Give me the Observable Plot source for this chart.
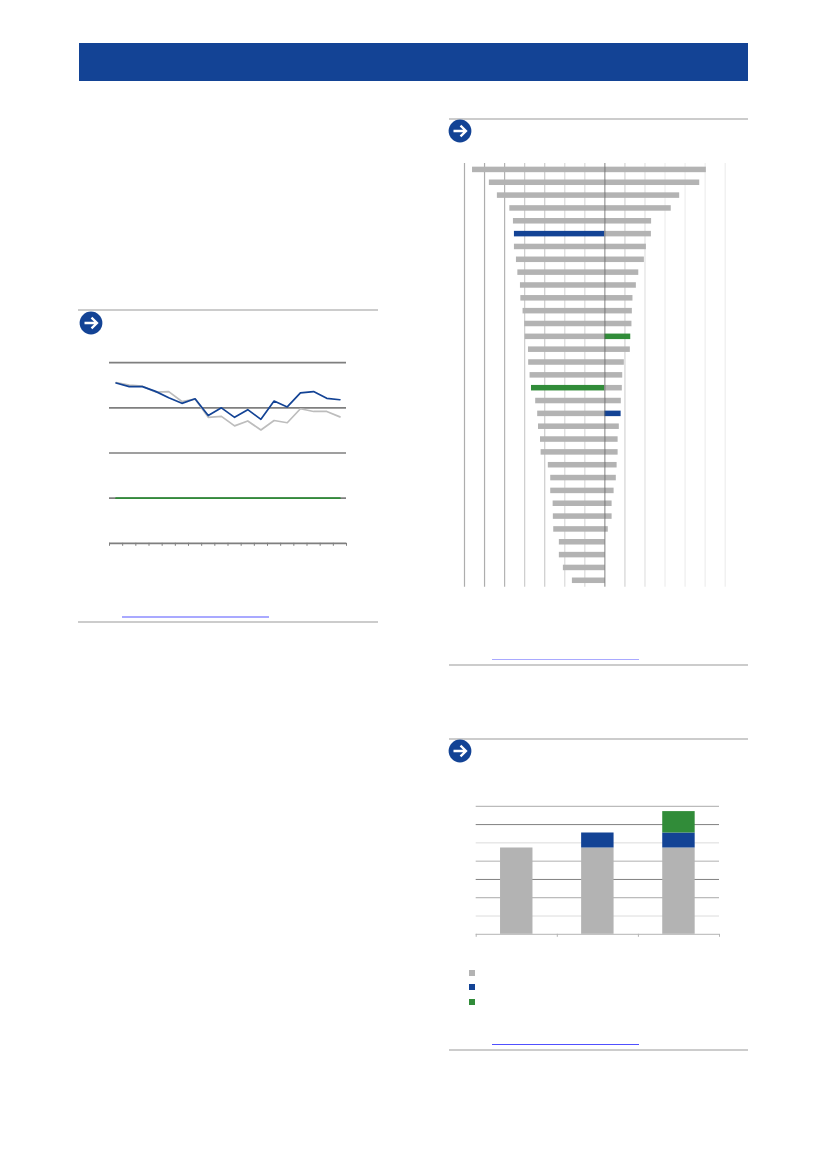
<!DOCTYPE html>
<html>
<head>
<meta charset="utf-8">
<script src="https://cdn.jsdelivr.net/npm/d3@7"></script>
<script src="https://cdn.jsdelivr.net/npm/@observablehq/plot@0.6"></script>
<style>
  html, body { margin: 0; padding: 0; background: #fff; }
  #page { position: relative; width: 826px; height: 1169px; overflow: hidden; font-family: "Liberation Sans", sans-serif; }
  #page > * { position: absolute; }
  .rule { background: #cccccc; height: 2px; }
  svg { overflow: visible; background: none; }
</style>
</head>
<body>
<div id="page"></div>
<script>
// Chart 1: two monthly series and a flat reference level
const periods = d3.range(18);
const blueSeries = [3.55,3.47,3.47,3.365,3.225,3.10,3.20,2.83,3.00,2.79,2.96,2.745,3.15,3.02,3.33,3.36,3.21,3.18];
const greySeries = [3.56,3.505,3.48,3.35,3.36,3.14,3.195,2.79,2.81,2.60,2.71,2.51,2.72,2.67,2.98,2.92,2.92,2.80];
const greenSeries = [1,1,1,1,1,1,1,1,1,1,1,1,1,1,1,1,1,1];
const lineGrid = [1,2,3,4];

// Chart 2: diverging ranked bars
const leftValues = [-6.60,-5.76,-5.36,-4.74,-4.56,-4.51,-4.51,-4.41,-4.34,-4.21,-4.19,-4.08,-4.00,-3.98,-3.81,-3.80,-3.73,-3.66,-3.45,-3.35,-3.31,-3.21,-3.18,-2.82,-2.70,-2.70,-2.58,-2.57,-2.55,-2.27,-2.27,-2.07,-1.62];
const rightValues = [5.06,4.73,3.73,3.31,2.33,2.32,2.07,1.97,1.69,1.57,1.40,1.37,1.35,1.29,1.27,0.97,0.89,0.87,0.82,0.81,0.72,0.66,0.66,0.61,0.57,0.46,0.36,0.36,0.17,0.02,0.02,0.02,0.02];
const leftHighlights = {5: "seriesA", 17: "seriesB"};
const rightHighlights = {13: "seriesB", 19: "seriesA"};
const barTicks = [-7,-6,-5,-4,-3,-2,-1,1,2,3,4,5,6];
const barTickColors = ["#adadad","#adadad","#b4b4b4","#cdcdcd","#cdcdcd","#dadada","#dadada","#d4d4d4","#e2e2e2","#eeeeee","#eeeeee","#eeeeee","#eeeeee"];

// Chart 3: stacked columns
const columns = [0,1,2];
const stackGrey = [4.72,4.72,4.72];
const stackBlue = [0,0.82,0.82];
const stackGreen = [0,0,1.17];
const columnGrid = [1,2,3,4,5,6,7];
const columnGridColors = ["#dcdcdc","#aaaaaa","#808080","#b0b0b0","#dcdcdc","#808080","#aaaaaa"];

const BLUE = "#134395", GREY = "#b3b3b3", GREEN = "#318c39";
const seriesScale = {type: "ordinal", domain: ["base","seriesA","seriesB"], range: [GREY, BLUE, GREEN]};
const page = document.getElementById("page");

function place(el, left, top) {
  el.style.position = "absolute";
  el.style.left = left + "px";
  el.style.top = top + "px";
  page.appendChild(el);
}
function box(left, top, width, height, color, cls) {
  const d = document.createElement("div");
  if (cls) d.className = cls;
  d.style.width = width + "px";
  d.style.height = height + "px";
  if (color) d.style.background = color;
  place(d, left, top);
}
function icon(cx, cy) {
  const s = d3.create("svg").attr("width", 24).attr("height", 24).attr("viewBox", "0 0 24 24");
  s.append("circle").attr("cx", 12).attr("cy", 12).attr("r", 11.4).attr("fill", BLUE);
  s.append("path").attr("d", "M5.5 12H17.5M12.5 6.6L18 12L12.5 17.4")
    .attr("fill", "none").attr("stroke", "#fff").attr("stroke-width", 2.3);
  place(s.node(), cx - 12, cy - 12);
}

// page furniture
box(79, 43, 669, 37.5, BLUE);
box(78, 309, 300, 2, null, "rule");
box(78, 621, 300, 2, null, "rule");
box(122, 616, 147, 2, "#a9a9ff");
icon(90.7, 323);
box(449, 118, 299, 2, null, "rule");
box(449, 664, 299, 2, null, "rule");
box(492, 659, 147, 1, "#a9a9ff");
icon(460.3, 131.3);
box(449, 738, 299, 2, null, "rule");
box(449, 1049, 299, 2, null, "rule");
box(492, 1043.8, 147, 1, "#5050ff");
icon(460.3, 751.3);

// Chart 1
const line1 = Plot.plot({
  width: 260, height: 200,
  marginLeft: 9, marginRight: 14, marginTop: 12.2, marginBottom: 7.2,
  x: {type: "linear", domain: [-0.5, 17.5], axis: null},
  y: {domain: [0, 4], axis: null},
  marks: [
    Plot.ruleY(lineGrid, {stroke: "#7f7f7f", strokeWidth: 1.7}),
    Plot.axisX(d3.range(-0.5, 18), {tickSize: 3, tickFormat: () => "", label: null, stroke: "#7f7f7f"}),
    Plot.ruleY([0], {stroke: "#7f7f7f", strokeWidth: 1.7}),
    Plot.line(greenSeries, {x: (d, i) => periods[i], y: d => d, stroke: GREEN, strokeWidth: 1.8}),
    Plot.line(greySeries, {x: (d, i) => periods[i], y: d => d, stroke: "#bdbdbd", strokeWidth: 1.7}),
    Plot.line(blueSeries, {x: (d, i) => periods[i], y: d => d, stroke: BLUE, strokeWidth: 1.7})
  ]
});
place(line1, 100, 350);

// Chart 2
const rows = d3.range(leftValues.length);
const bars = Plot.plot({
  width: 285, height: 440,
  marginLeft: 14, marginRight: 10.3, marginTop: 8, marginBottom: 8.3,
  x: {domain: [-7, 6], axis: null},
  y: {type: "band", domain: rows, paddingInner: 0.57, paddingOuter: 0.285, round: false, axis: null},
  color: seriesScale,
  marks: [
    Plot.ruleX(barTicks, {stroke: (d, i) => barTickColors[i], strokeWidth: 1.2}),
    Plot.barX(rows, {y: d => d, x1: 0, x2: d => leftValues[d], fill: d => leftHighlights[d] || "base"}),
    Plot.barX(rows, {y: d => d, x1: 0, x2: d => rightValues[d], fill: d => rightHighlights[d] || "base"}),
    Plot.ruleX([0], {stroke: "#555555", strokeOpacity: 0.75, strokeWidth: 1})
  ]
});
place(bars, 450, 155);

// Chart 3
const stackRows = columns.flatMap(c => [
  {column: c, series: "base", value: stackGrey[c]},
  {column: c, series: "seriesA", value: stackBlue[c]},
  {column: c, series: "seriesB", value: stackGreen[c]}
]);
const stacked = Plot.plot({
  width: 270, height: 150,
  marginLeft: 15.7, marginRight: 11, marginTop: 10.8, marginBottom: 11.2,
  x: {type: "linear", domain: [-0.5, 2.5], axis: null},
  y: {domain: [0, 7], axis: null},
  color: seriesScale,
  marks: [
    Plot.ruleY(columnGrid, {stroke: (d, i) => columnGridColors[i], strokeWidth: 1}),
    Plot.rectY(stackRows, {x1: d => d.column - 0.2, x2: d => d.column + 0.2, y: "value", fill: "series", order: seriesScale.domain}),
    Plot.axisX(d3.range(-0.5, 3), {tickSize: 3, tickFormat: () => "", label: null, stroke: "#b5b5b5"}),
    Plot.ruleY([0], {stroke: "#b5b5b5", strokeWidth: 1})
  ]
});
place(stacked, 460, 795);

// Legend of chart 3
[[973, GREY], [987.3, BLUE], [1002.3, GREEN]].forEach(([y, c]) => box(468.5, y - 3, 6, 6, c));
</script>
</body>
</html>
